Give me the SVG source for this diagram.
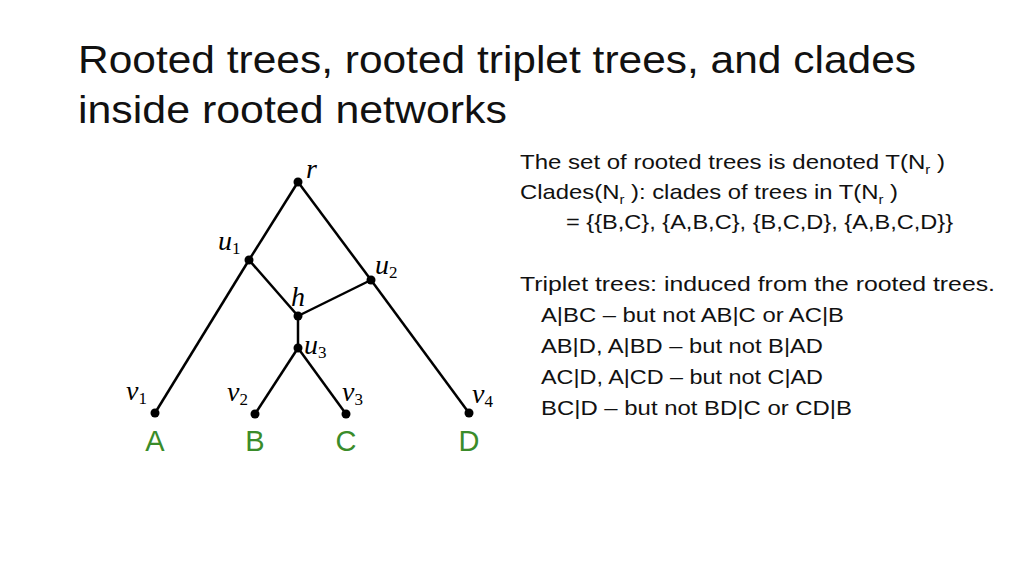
<svg xmlns="http://www.w3.org/2000/svg" width="1024" height="576" viewBox="0 0 1024 576">
<style>
.t{font-family:"Liberation Sans",Arial,sans-serif;fill:#111}
.title{font-size:38px}
.body{font-size:21px}
.m{font-family:"Liberation Serif","DejaVu Serif",serif;font-style:italic;font-size:28px;fill:#000}
.s{font-size:17px;font-style:normal}
.leaf{font-family:"Liberation Sans",Arial,sans-serif;font-size:29px;fill:#3a8c2a}
.e{stroke:#000;stroke-width:2.5;fill:none}
</style>
<rect width="1024" height="576" fill="#fff"/>
<text class="t title" x="78" y="73" textLength="838" lengthAdjust="spacingAndGlyphs">Rooted trees, rooted triplet trees, and clades</text>
<text class="t title" x="78" y="123" textLength="429" lengthAdjust="spacingAndGlyphs">inside rooted networks</text>
<g id="edges">
<line class="e" x1="298" y1="182" x2="249" y2="260"/>
<line class="e" x1="249" y1="260" x2="155" y2="413"/>
<line class="e" x1="249" y1="260" x2="298" y2="316"/>
<line class="e" x1="298" y1="182" x2="371" y2="280"/>
<line class="e" x1="371" y1="280" x2="469" y2="413"/>
<line class="e" x1="371" y1="280" x2="298" y2="316"/>
<line class="e" x1="298" y1="316" x2="298" y2="348"/>
<line class="e" x1="298" y1="348" x2="255" y2="414"/>
<line class="e" x1="298" y1="348" x2="346" y2="414"/>
</g>
<g id="r"><circle cx="298" cy="182" r="4.5"/><text class="m" x="306" y="178">r</text></g>
<g id="u1"><circle cx="249" cy="260" r="4.5"/><text class="m" x="218" y="250">u<tspan class="s" dy="4">1</tspan></text></g>
<g id="u2"><circle cx="371" cy="280" r="4.5"/><text class="m" x="375" y="274">u<tspan class="s" dy="4">2</tspan></text></g>
<g id="h"><circle cx="298" cy="316" r="4.5"/><text class="m" x="291" y="306">h</text></g>
<g id="u3"><circle cx="298" cy="348" r="4.5"/><text class="m" x="304" y="354">u<tspan class="s" dy="4">3</tspan></text></g>
<g id="v1"><circle cx="155" cy="413" r="4.5"/><text class="m" x="126" y="400">v<tspan class="s" dy="4">1</tspan></text><text class="leaf" x="155" y="451" text-anchor="middle">A</text></g>
<g id="v2"><circle cx="255" cy="414" r="4.5"/><text class="m" x="227" y="401">v<tspan class="s" dy="4">2</tspan></text><text class="leaf" x="255" y="451" text-anchor="middle">B</text></g>
<g id="v3"><circle cx="346" cy="414" r="4.5"/><text class="m" x="342" y="401">v<tspan class="s" dy="4">3</tspan></text><text class="leaf" x="346" y="451" text-anchor="middle">C</text></g>
<g id="v4"><circle cx="469" cy="413" r="4.5"/><text class="m" x="472" y="403">v<tspan class="s" dy="4">4</tspan></text><text class="leaf" x="469" y="451" text-anchor="middle">D</text></g>
<g class="t body">
<text x="520" y="169" textLength="425" lengthAdjust="spacingAndGlyphs">The set of rooted trees is denoted T(N<tspan font-size="13" dy="5">r</tspan><tspan dy="-5"> )</tspan></text>
<text x="520" y="199" textLength="378" lengthAdjust="spacingAndGlyphs">Clades(N<tspan font-size="13" dy="5">r</tspan><tspan dy="-5"> ): clades of trees in T(N</tspan><tspan font-size="13" dy="5">r</tspan><tspan dy="-5"> )</tspan></text>
<text x="566" y="229" textLength="387" lengthAdjust="spacingAndGlyphs">= {{B,C}, {A,B,C}, {B,C,D}, {A,B,C,D}}</text>
<text x="520" y="291" textLength="475" lengthAdjust="spacingAndGlyphs">Triplet trees: induced from the rooted trees.</text>
<text x="541" y="322" textLength="303" lengthAdjust="spacingAndGlyphs">A|BC – but not AB|C or AC|B</text>
<text x="541" y="353" textLength="282" lengthAdjust="spacingAndGlyphs">AB|D, A|BD – but not B|AD</text>
<text x="541" y="384" textLength="282" lengthAdjust="spacingAndGlyphs">AC|D, A|CD – but not C|AD</text>
<text x="541" y="415" textLength="311" lengthAdjust="spacingAndGlyphs">BC|D – but not BD|C or CD|B</text>
</g>
</svg>
